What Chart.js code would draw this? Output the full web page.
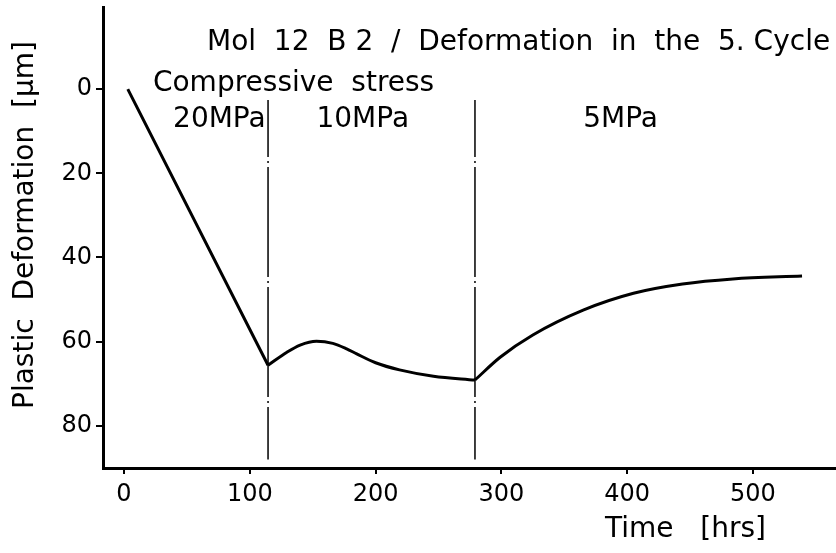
<!DOCTYPE html>
<html>
<head>
<meta charset="utf-8">
<script src="https://cdn.jsdelivr.net/npm/chart.js@4"></script>
<style>
  html, body { margin: 0; padding: 0; background: #fff; }
  #wrap { width: 836px; height: 553px; }
</style>
</head>
<body>
<div id="wrap"><canvas id="defChart"></canvas></div>
<script>
// time [hrs] and plastic deformation [µm] for each load stage
var stage1Time = [3, 114.5];
var stage1Def  = [0, 65.6];
var stage2Time = [114.5, 129.5, 140, 153, 166, 177, 185, 200, 219, 246, 279];
var stage2Def  = [65.6, 62.5, 60.8, 59.9, 60.4, 61.7, 62.9, 65.0, 66.7, 68.2, 69.1];
var stage3Time = [279, 299, 325, 365, 405, 444, 484, 539];
var stage3Def  = [69.1, 63.7, 58.4, 52.5, 48.5, 46.3, 45.1, 44.4];

// load changes (vertical dash-dot lines)
var changeTimes = [114.5, 279];
var changeFrom = 2.6, changeTo = 88;

var xTicks = [0, 100, 200, 300, 400, 500];
var yTicks = [0, 20, 40, 60, 80];
var stressLabels = ['20MPa', '10MPa', '5MPa'];
var stressLabelTimes = [39, 153, 365];

var FONT = 'DejaVu Sans';

function pts(xs, ys) {
    return xs.map(function(x, i) { return { x: x, y: ys[i] }; });
}

function curve(xs, ys) {
    return {
        data: pts(xs, ys),
        borderColor: '#000',
        borderWidth: 3,
        pointRadius: 0,
        fill: false,
        cubicInterpolationMode: 'monotone'
    };
}

var datasets = [curve(stage1Time, stage1Def), curve(stage2Time, stage2Def), curve(stage3Time, stage3Def)];
changeTimes.forEach(function(t) {
    datasets.push({
        data: [{ x: t, y: changeFrom }, { x: t, y: changeTo }],
        borderColor: '#000',
        borderWidth: 1.5,
        borderDash: [110, 4, 2, 4],
        borderDashOffset: 53,
        pointRadius: 0,
        fill: false
    });
});

// texts inside and around the plot
var textPlugin = {
    id: 'texts',
    afterDraw: function(chart) {
        var ctx = chart.ctx;
        var xs = chart.scales.x, ys = chart.scales.y;
        ctx.save();
        ctx.fillStyle = '#000';
        ctx.textBaseline = 'middle';
        ctx.textAlign = 'left';

        ctx.font = '28px ' + FONT;
        ctx.fillText('Mol  12  B 2  /  Deformation  in  the  5. Cycle', 207, 43);
        ctx.fillText('Compressive  stress', xs.getPixelForValue(23), ys.getPixelForValue(-1.2));
        stressLabels.forEach(function(s, i) {
            ctx.fillText(s, xs.getPixelForValue(stressLabelTimes[i]), ys.getPixelForValue(7.2));
        });

        ctx.fillText('Time   [hrs]', 605, 530);

        ctx.translate(26, 225);
        ctx.rotate(-Math.PI / 2);
        ctx.textAlign = 'center';
        ctx.fillText('Plastic  Deformation  [µm]', 0, 0);
        ctx.restore();
    }
};

var ctx = document.getElementById('defChart').getContext('2d');
var defChart = new Chart(ctx, {
    type: 'line',
    data: { datasets: datasets },
    options: {
        responsive: true,
        maintainAspectRatio: false,
        animation: false,
        layout: { padding: { top: 7, right: 0, left: 0, bottom: 0 } },
        plugins: {
            legend: { display: false },
            tooltip: { enabled: false }
        },
        scales: {
            x: {
                type: 'linear',
                min: -16.7,
                max: 566,
                afterFit: function(scale) {
                    scale.height = 85;
                    scale.paddingLeft = 0;
                    scale.paddingRight = 0;
                },
                afterBuildTicks: function(scale) {
                    scale.ticks = xTicks.map(function(v) { return { value: v }; });
                },
                ticks: {
                    color: '#000',
                    padding: 6,
                    font: { family: FONT, size: 24 },
                    maxRotation: 0
                },
                grid: { drawOnChartArea: false, drawTicks: true, tickLength: 6, color: '#000', lineWidth: 2 },
                border: { color: '#000', width: 3 }
            },
            y: {
                type: 'linear',
                reverse: true,
                min: -19.5,
                max: 90,
                afterFit: function(scale) {
                    scale.width = 103;
                    scale.paddingTop = 0;
                    scale.paddingBottom = 0;
                },
                afterBuildTicks: function(scale) {
                    scale.ticks = yTicks.map(function(v) { return { value: v }; });
                },
                ticks: {
                    color: '#000',
                    padding: 4,
                    font: { family: FONT, size: 24 }
                },
                grid: { drawOnChartArea: false, drawTicks: true, tickLength: 7, color: '#000', lineWidth: 2 },
                border: { color: '#000', width: 3 }
            }
        }
    },
    plugins: [textPlugin]
});
</script>
</body>
</html>
